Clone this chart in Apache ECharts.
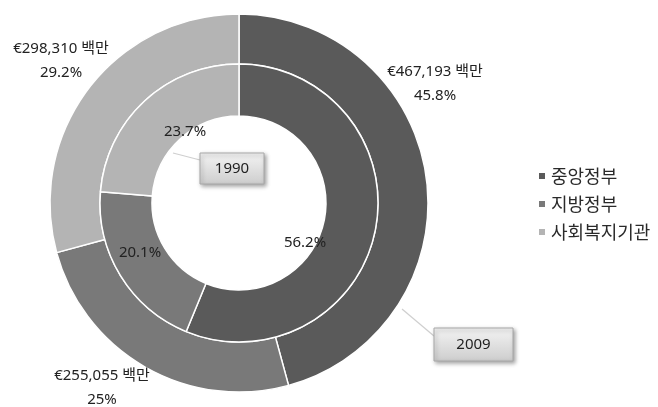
<!DOCTYPE html>
<html>
<head>
<meta charset="utf-8">
<script src="https://cdn.jsdelivr.net/npm/echarts@6/dist/echarts.min.js"></script>
<style>
  html, body { margin: 0; padding: 0; background: #fff; }
  #chart { width: 658px; height: 407px; }
</style>
</head>
<body>
<div id="chart"></div>
<script>
// Spending by level of government
const categories = ['중앙정부', '지방정부', '사회복지기관'];
const years = ['2009', '1990'];
// 2009 spending, € millions
const amounts2009 = [467193, 255055, 298310];
// 1990 shares, %
const shares1990 = [56.2, 20.1, 23.7];
const unitLabel = '백만';

const colors = ['#5a5a5a', '#797979', '#b4b4b4'];
const FONT = "'Noto Sans', 'Noto Sans CJK KR', sans-serif";

// label anchor points (centre of each text block)
const outerLabelPos = [[435, 84], [102, 388], [61, 61]];
const innerLabelPos = [[305, 243], [140, 253], [185, 132]];

const center = [239, 203];

function yearBox(text, x, y, w, h, line) {
  return {
    type: 'group',
    children: [
      { type: 'line', shape: { x1: line[0], y1: line[1], x2: line[2], y2: line[3] },
        style: { stroke: '#cfcfcf', lineWidth: 1.2 }, z: 10 },
      { type: 'rect', shape: { x: x, y: y, width: w, height: h },
        style: {
          fill: new echarts.graphic.LinearGradient(0, 0, 0, 1, [
            { offset: 0, color: '#f4f4f4' }, { offset: 1, color: '#cdcdcd' }
          ]),
          stroke: '#a8a8a8', lineWidth: 1,
          shadowBlur: 4, shadowOffsetX: 1.5, shadowOffsetY: 2, shadowColor: 'rgba(0,0,0,0.35)'
        }, z: 11 },
      { type: 'text', x: x + w / 2, y: y + h / 2,
        style: { text: text, fill: '#222', font: '15px ' + FONT, align: 'center', verticalAlign: 'middle' }, z: 12 }
    ]
  };
}

const chart = echarts.init(document.getElementById('chart'), null, { renderer: 'canvas' });
chart.setOption({
  backgroundColor: '#fff',
  animation: false,
  color: colors,
  legend: {
    orient: 'vertical',
    left: 532,
    top: 162,
    icon: 'rect',
    itemWidth: 8,
    itemHeight: 8,
    itemGap: 10,
    data: categories,
    textStyle: { fontFamily: "'Noto Sans CJK KR', sans-serif", fontSize: 18, color: '#2a2a2a' }
  },
  series: [
    {
      name: years[0],
      type: 'pie',
      center: center,
      radius: [139, 189],
      startAngle: 90,
      clockwise: true,
      percentPrecision: 1,
      itemStyle: { borderColor: '#fff', borderWidth: 1.5 },
      label: {
        show: true,
        position: 'inside',
        fontFamily: FONT,
        fontSize: 15,
        color: '#222',
        lineHeight: 24,
        align: 'center',
        formatter: p => '€' + p.value.toLocaleString('en-US') + ' ' + unitLabel + '\n' + p.percent + '%'
      },
      labelLine: { show: false },
      labelLayout: p => ({ x: outerLabelPos[p.dataIndex][0], y: outerLabelPos[p.dataIndex][1], align: 'center', verticalAlign: 'middle' }),
      emphasis: { disabled: true },
      data: categories.map((c, i) => ({ name: c, value: amounts2009[i] }))
    },
    {
      name: years[1],
      type: 'pie',
      center: center,
      radius: [87, 139],
      startAngle: 90,
      clockwise: true,
      itemStyle: { borderColor: '#fff', borderWidth: 1.5 },
      label: {
        show: true,
        position: 'inside',
        fontFamily: FONT,
        fontSize: 15,
        color: '#222',
        formatter: p => p.value + '%'
      },
      labelLine: { show: false },
      labelLayout: p => ({ x: innerLabelPos[p.dataIndex][0], y: innerLabelPos[p.dataIndex][1], align: 'center', verticalAlign: 'middle' }),
      emphasis: { disabled: true },
      data: categories.map((c, i) => ({ name: c, value: shares1990[i] }))
    }
  ],
  graphic: [
    yearBox(years[1], 200, 153, 64, 31, [173, 153, 200, 160]),
    yearBox(years[0], 434, 328, 79, 33, [402, 309, 434, 336])
  ]
});
</script>
</body>
</html>
